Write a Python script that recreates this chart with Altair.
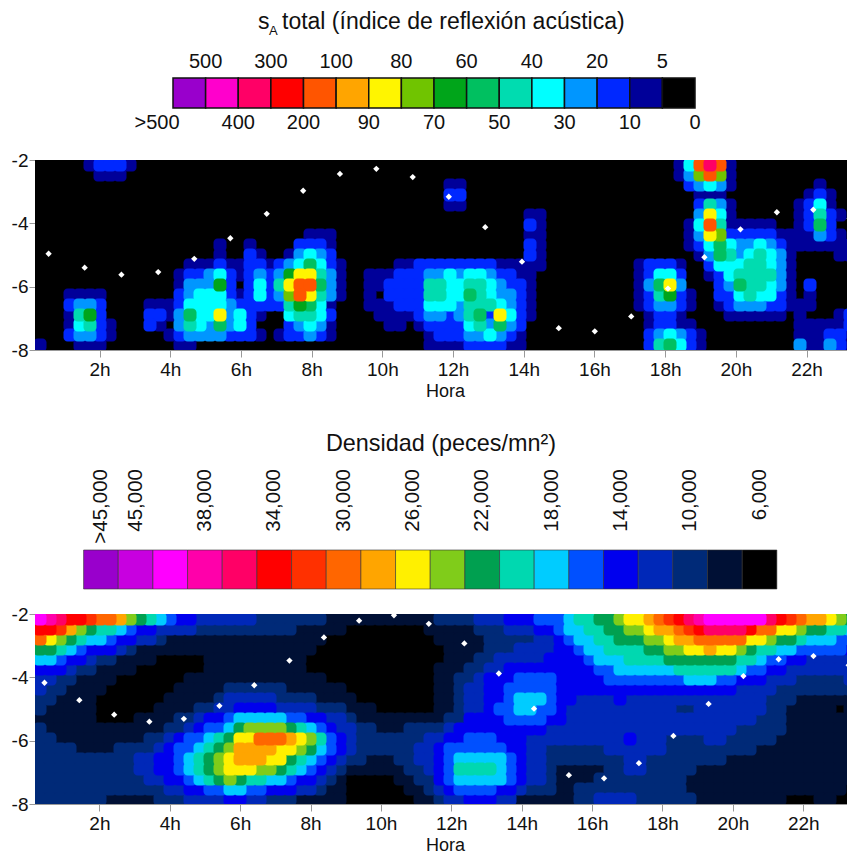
import altair as alt
import pandas as pd

# ---- colour bands ----
sa_codes = list("fedcba9876543210")
sa_colors = ["#9900cc", "#ff00cc", "#ff0066", "#ff0000", "#ff5500", "#ffa500", "#fff500", "#70c400",
             "#00a51a", "#00c060", "#00dcb0", "#00ffff", "#0096ff", "#0028ff", "#000099", "#000000"]
sa_above = ["500", "300", "100", "80", "60", "40", "20", "5"]
sa_below = [">500", "400", "200", "90", "70", "50", "30", "10", "0"]

dn_codes = list("jihgfedcba9876543210")
dn_colors = ["#9900cc", "#c800e0", "#ff00ff", "#ff00aa", "#ff0066", "#ff0000", "#ff3000", "#ff6600", "#ffa500",
             "#fff000", "#80cc1a", "#00a050", "#00d8b0", "#00ccff", "#0050ff", "#0000ee", "#0028b8", "#002a78",
             "#001035", "#000000"]
dn_labels = [">45,000", "45,000", "38,000", "34,000", "30,000", "26,000", "22,000", "18,000", "14,000", "10,000", "6,000"]

# ---- band read per cell, depth rows from -2 downward ----
sa_rows = [
 "0000012221 0000000000 0000000000 0000000000 0000000000 0000000000 000014bdb1 0000000000 00",
 "0000001110 0000000000 0000000000 0000000000 0000000000 0000000000 0000138b81 0000000000 00",
 "0000000000 0000000000 0000000000 0000000000 0110000000 0000000000 0000023431 0000000010 00",
 "0000000000 0000000000 0000000000 0000000000 0220000000 0000000000 0000001110 0000000121 00",
 "0000000000 0000000000 0000000000 0000000000 0110000000 0000000000 0000002531 0000001241 00",
 "0000000000 0000000000 0000000000 0000000000 0000000001 1000000000 0000003941 0000001252 10",
 "0000000000 0000000000 0000000000 0000000000 0000000002 1000000000 0000014b51 1111001262 00",
 "0000000000 0000000000 0000000111 0000000000 0000000001 1000000000 0000013982 2222111132 10",
 "0000000000 0000000010 0100002221 0000000000 0000000002 1000000000 0000012464 3343211111 11",
 "0000000000 0000000010 0210013432 0000000000 0000000002 1000000000 0000001365 3454310000 11",
 "0000000000 0000011121 1221234642 1000001122 2222221111 1000000000 1222100244 4554310000 00",
 "0000000000 0000122342 1232379953 1001112223 3434432211 0000000000 1244200124 5555310000 00",
 "0000000000 0000133372 024259bb63 1001122225 5445543221 0000000000 1369300023 6554310200 00",
 "0001111000 0000234442 124238b953 1001022225 5446543321 0000000000 1257210022 4544210100 00",
 "0002332000 0111244443 2222257641 0001112224 4435554321 0000000000 1233210012 3332211100 00",
 "0001572000 0221364493 4210045542 0000111123 3235629421 0000000000 0122100001 1111101000 12",
 "0001452100 0210354363 4200023431 0000011012 2224536320 0000000000 0122110000 0000001111 12",
 "0002332100 0001233332 2210122321 0000000001 2223343210 0000000000 0234321000 0000001112 21",
 "1000111000 0000110000 0000000000 0000000001 1112222110 0000000000 0256421000 0000003113 21",
]
dn_rows = [
 "hgfeedccb9 8765443333 3322222221 1111111111 2222333444 555677889a abcdefghhh hhhfedcbba 98",
 "eedb987765 4433332222 2222221111 1000000001 1111222333 4456677889 9abbcdefff feccaa9887 76",
 "ca98766544 3321111111 1111111110 0000000000 1111122222 3345667788 899abbcccc caa9887666 55",
 "8876544432 1111111111 1111111100 0000000000 0111122233 3344566777 78899aabaa 9877665555 54",
 "6654432211 1100000111 1111111000 0000000000 0111223333 3444456667 7778888888 7765544333 33",
 "4443221111 0000000111 1111111000 0000000000 1112233444 4444445566 6666777777 6554433333 33",
 "3322111100 0000011111 1111111110 0000000000 1122344455 5544444555 5555566655 4443332222 23",
 "3221111000 0000111112 2222211111 1000000000 1123344555 5544444444 4444444444 3333222222 22",
 "2211110000 0001111123 3333222211 1100000000 1123344566 6544333343 3333333333 3332221111 11",
 "2111110000 0011112233 4444333322 2111000000 1123345566 5543333333 3333223333 3332211111 01",
 "1111110000 1111223445 6666655443 3211111111 1224444555 5443333333 3333333333 3322211111 11",
 "2111111111 1112234556 8999987654 3322111222 2344444444 4333333333 3333333333 2222211111 11",
 "2211111111 1223455678 aacccba975 4322222223 3445554443 3333333334 3332222332 2222111111 11",
 "2222111122 2234556789 bbbbaa9865 4322222233 4555555443 3222222333 3332222222 2211111111 11",
 "2222222222 334456789a bbbaa87654 3221112233 4566666543 3222222223 3222222221 1111111111 11",
 "2222222222 334456789a aa99876543 2111111223 4577776543 3211111223 3222221111 1111111111 11",
 "2222222222 2334456789 8776654432 1000001122 4566666543 3211112222 2222211111 1111111111 11",
 "2222222222 2223344556 6554443321 1000000112 3455554432 2211222222 2222211111 1111111111 10",
 "2222222111 1122233334 4332221111 1000000011 2334443311 1111223333 2222221111 1111100011 00",
]

# ---- white diamonds: hour and depth ----
sa_hour = [0.56, 1.58, 2.62, 3.66, 4.68, 5.70, 6.73, 7.76, 8.80, 9.83, 10.86, 11.88, 12.91, 13.95, 14.99, 16.01,
           17.04, 18.08, 19.11, 20.13, 21.16, 22.19, 23.22]
sa_depth = [-4.96, -5.40, -5.62, -5.54, -5.12, -4.47, -3.70, -2.97, -2.44, -2.28, -2.54, -3.16, -4.12, -5.21, -7.31,
            -7.41, -6.94, -6.06, -5.07, -4.19, -3.65, -3.57, -3.85]
dn_hour = [0.44, 1.43, 2.42, 3.42, 4.40, 5.41, 6.40, 7.40, 8.38, 9.38, 10.37, 11.36, 12.37, 13.35, 14.35, 15.34,
           16.34, 17.33, 18.31, 19.31, 20.30, 21.30, 22.29, 23.29]
dn_depth = [-4.17, -4.72, -5.18, -5.40, -5.31, -4.90, -4.25, -3.47, -2.74, -2.21, -2.04, -2.31, -2.93, -3.88, -4.99,
            -7.09, -7.19, -6.71, -5.85, -4.84, -3.96, -3.43, -3.33, -3.62]

hour_ticks = list(range(2, 24, 2))
depth_ticks = [-2, -4, -6, -8]
FONT = "Liberation Sans"
W = 820
GREY = "#999999"


def grid(rows, codes, colors, xmin, xmax):
    rank = {c: len(codes) - 1 - n for n, c in enumerate(codes)}
    lookup = dict(zip(codes, colors))
    rows = [r.replace(" ", "") for r in rows]
    n = len(rows[0])
    assert all(len(r) == n for r in rows), [len(r) for r in rows]
    dx = (xmax - xmin) / n
    dy = 6 / len(rows)
    out = []
    for j, r in enumerate(rows):
        for i, c in enumerate(r):
            out.append({"x": xmin + (i + 0.5) * dx, "y": -2 - (j + 0.5) * dy, "c": lookup[c], "r": rank[c]})
    # lower bands first, so that the higher ones lie on top of them
    return pd.DataFrame(out).sort_values("r", kind="stable")


def panel(rows, codes, colors, hours, depths, xmin, xmax, h):
    xs = alt.Scale(domain=[xmin, xmax], nice=False, zero=False)
    ys = alt.Scale(domain=[-8, -2], nice=False, zero=False)
    cells = alt.Chart(grid(rows, codes, colors, xmin, xmax)).mark_rect(
        width=13, height=13, cornerRadius=4, clip=True).encode(
        x=alt.X("x:Q", scale=xs, axis=alt.Axis(
            values=hour_ticks, labelExpr="datum.value + 'h'", title="Hora", grid=False,
            labelFontSize=19, titleFontSize=18, labelFont=FONT, titleFont=FONT, titleFontWeight="normal",
            tickColor=GREY, domainColor=GREY, tickSize=7, labelColor="#111", titleColor="#111",
            labelPadding=3, titlePadding=3, labelFlush=False)),
        y=alt.Y("y:Q", scale=ys, axis=alt.Axis(
            values=depth_ticks, labelExpr="'-' + abs(datum.value)", title=None, grid=False,
            labelFontSize=19, labelFont=FONT, tickColor=GREY, domainColor=GREY, tickSize=6,
            labelColor="#111", labelPadding=1)),
        color=alt.Color("c:N", scale=None),
    )
    dots = alt.Chart(pd.DataFrame({"h": hours, "d": depths})).mark_point(
        shape="diamond", filled=True, color="white", opacity=1, size=40).encode(
        x=alt.X("h:Q", scale=xs), y=alt.Y("d:Q", scale=ys))
    return alt.layer(cells, dots).properties(width=W, height=h)


def text(s, x, y, size, **kw):
    return alt.Chart(pd.DataFrame({"t": [s]})).mark_text(
        font=FONT, fontSize=size, color="#111", **kw).encode(
        text="t:N", x=alt.value(x), y=alt.value(y))


# ---- top colour key: boundaries numbered 0..16 ----
k = 32.625
kx = alt.Scale(domain=[-138 / k, 16 + 160 / k], nice=False, zero=False)
sa_key = pd.DataFrame({"a": range(16), "b": range(1, 17), "c": sa_colors})
sa_bar = alt.Chart(sa_key).mark_rect(stroke="#111", strokeWidth=1.5).encode(
    x=alt.X("a:Q", scale=kx, axis=None), x2="b:Q",
    y=alt.value(70), y2=alt.value(100),
    color=alt.Color("c:N", scale=None))
above = pd.DataFrame({"p": [2 * i + 1 for i in range(len(sa_above))], "t": sa_above})
below = pd.DataFrame({"p": [2 * i for i in range(1, len(sa_below))], "t": sa_below[1:]})
sa_top = alt.Chart(above).mark_text(font=FONT, fontSize=20, color="#111").encode(
    x=alt.X("p:Q", scale=kx, axis=None), y=alt.value(54), text="t:N")
sa_bot = alt.Chart(below).mark_text(font=FONT, fontSize=20, color="#111").encode(
    x=alt.X("p:Q", scale=kx, axis=None), y=alt.value(115), text="t:N")
key1 = alt.layer(
    sa_bar, sa_top, sa_bot,
    text(sa_below[0], 122, 115, 20),
    text("s", 223, 14, 23, align="left"),
    text("A", 234, 23, 13, align="left"),
    text("total (índice de reflexión acústica)", 247, 14, 23, align="left"),
).properties(width=W, height=152, view=alt.ViewConfig(stroke=None))

# ---- second colour key ----
m = 34.6
mx = alt.Scale(domain=[-48.5 / m, 20 + 78 / m], nice=False, zero=False)
dn_key = pd.DataFrame({"a": range(20), "b": range(1, 21), "c": dn_colors})
dn_bar = alt.Chart(dn_key).mark_rect(stroke="#333", strokeWidth=0.6).encode(
    x=alt.X("a:Q", scale=mx, axis=None), x2="b:Q",
    y=alt.value(200), y2=alt.value(239),
    color=alt.Color("c:N", scale=None))
label_pos = [0.5, 1.5] + [2 * i + 3.5 for i in range(len(dn_labels) - 2)]
dn_lab = alt.Chart(pd.DataFrame({"p": label_pos, "t": dn_labels})).mark_text(
    font=FONT, fontSize=20.5, color="#111", angle=270, align="right", baseline="middle").encode(
    x=alt.X("p:Q", scale=mx, axis=None), y=alt.value(119), text="t:N")
key2 = alt.layer(
    dn_bar, dn_lab,
    text("Densidad (peces/mn²)", 406, 94, 23.4),
).properties(width=W, height=264, view=alt.ViewConfig(stroke=None))

p1 = panel(sa_rows, sa_codes, sa_colors, sa_hour, sa_depth, 0.175, 23.37, 190)
p2 = panel(dn_rows, dn_codes, dn_colors, dn_hour, dn_depth, 0.17, 23.47, 190)

chart = alt.vconcat(key1, p1, key2, p2, spacing=0, bounds="flush").properties(
    padding={"left": 2, "right": -9, "top": 0, "bottom": 0}
).configure_view(stroke=GREY)

chart.save("out.html", embed_options={"renderer": "svg", "actions": False})
